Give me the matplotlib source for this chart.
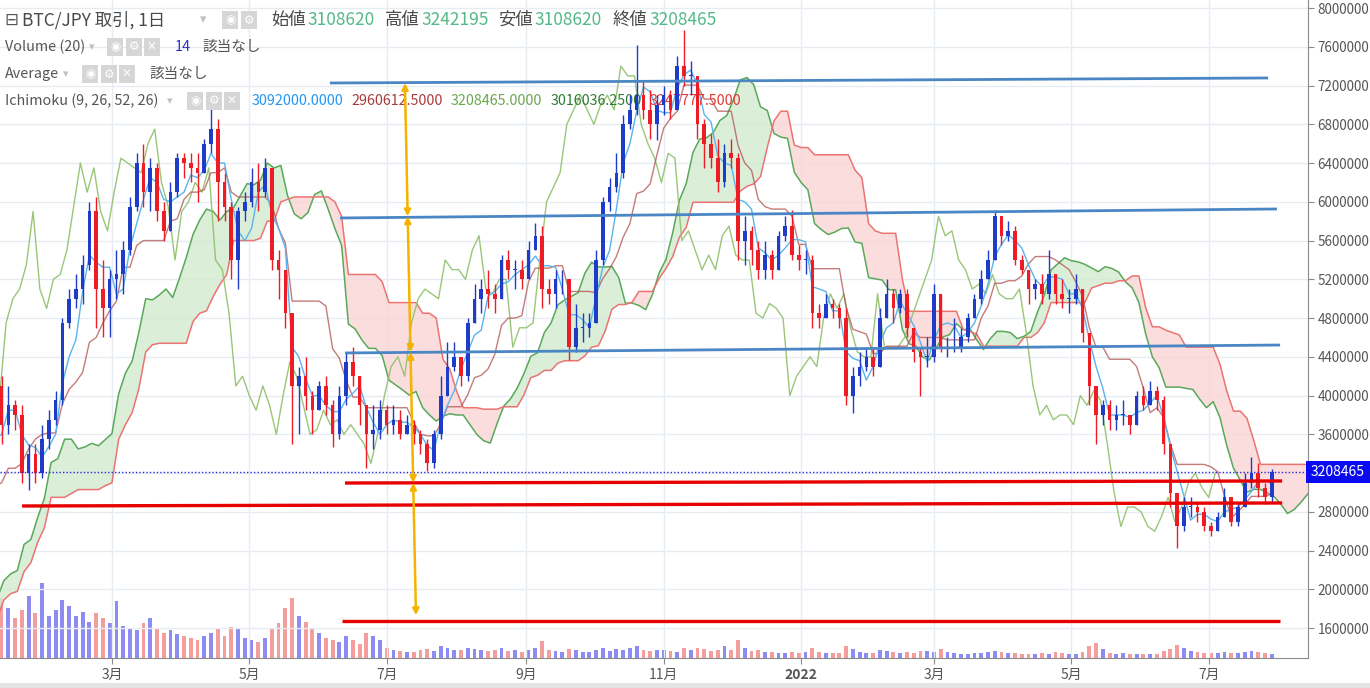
import numpy as np
import pandas as pd
import matplotlib
matplotlib.use('Agg')
import matplotlib.pyplot as plt
from matplotlib.patches import Rectangle
import matplotlib.transforms as mtransforms

plt.rcParams['font.family'] = ['Noto Sans CJK JP', 'DejaVu Sans']

# ---------------- data (prices in units of 10,000 JPY, 3-day candles) ----------------
# history before the visible window (Oct 2020 - Jan 2021), used only for the Ichimoku lines
pre_close = [121, 121, 124, 137, 137, 138, 142, 146, 160, 160, 170, 167, 185, 194, 198,
             178, 200, 200, 200, 191, 194, 200, 235, 240, 240, 275, 290, 330, 350, 410]
pre_high = [123, 123, 125, 139, 140, 144, 145, 148, 165, 163, 172, 172, 188, 196, 200,
            202, 202, 205, 203, 200, 196, 202, 240, 250, 250, 285, 295, 335, 360, 420]
pre_low = [119, 119, 120, 124, 134, 135, 138, 141, 146, 152, 160, 162, 167, 182, 188,
           170, 178, 190, 192, 186, 186, 194, 200, 230, 230, 240, 270, 290, 300, 350]

# visible candles: 2021-01-10 .. 2022-07-28
close = [370, 390, 380, 320, 340, 320, 355, 375, 395, 475,
         500, 510, 535, 590, 510, 490, 520, 525, 550, 595,
         640, 610, 635, 590, 570, 610, 645, 640, 635, 630,
         660, 675, 620, 595, 540, 590, 600, 620, 610, 635,
         540, 530, 485, 410, 420, 400, 385, 410, 390, 360,
         400, 435, 420, 390, 360, 365, 385, 370, 375, 360,
         370, 360, 350, 330, 360, 400, 430, 440, 420, 475,
         500, 510, 505, 500, 540, 530, 530, 520, 550, 565,
         510, 505, 520, 520, 450, 470, 470, 475, 540, 600,
         615, 630, 680, 695, 710, 695, 680, 700, 710, 695,
         740, 730, 730, 680, 660, 645, 620, 650, 645, 560,
         570, 550, 530, 545, 530, 565, 575, 545, 540, 540,
         485, 480, 495, 490, 480, 400, 420, 430, 440, 430,
         480, 505, 490, 505, 470, 445, 440, 440, 505, 450,
         450, 450, 460, 480, 500, 520, 540, 585, 565, 570,
         540, 530, 510, 515, 505, 525, 505, 500, 500, 510,
         465, 410, 380, 390, 375, 380, 380, 370, 400, 390,
         405, 395, 350, 300, 265, 285, 285, 280, 265, 260,
         275, 295, 270, 285, 310, 320, 305, 295, 320.8465]
high = [420, 410, 395, 390, 350, 350, 370, 385, 405, 480,
        510, 525, 545, 600, 605, 540, 530, 550, 560, 605,
        650, 660, 645, 640, 600, 620, 650, 650, 650, 650,
        665, 700, 685, 630, 600, 595, 610, 635, 640, 645,
        635, 550, 520, 470, 430, 440, 405, 415, 420, 395,
        410, 445, 450, 415, 385, 390, 395, 390, 390, 385,
        380, 375, 365, 355, 365, 420, 455, 455, 440, 480,
        515, 520, 530, 515, 545, 550, 540, 540, 560, 578,
        575, 520, 530, 530, 520, 495, 485, 485, 550, 605,
        625, 650, 690, 710, 762, 725, 715, 710, 720, 715,
        750, 777, 745, 730, 685, 670, 665, 660, 665, 650,
        585, 575, 560, 560, 550, 570, 585, 592, 555, 550,
        545, 495, 505, 500, 495, 490, 430, 445, 450, 450,
        490, 520, 510, 510, 510, 465, 450, 460, 515, 500,
        460, 480, 470, 485, 505, 530, 550, 592, 585, 580,
        575, 545, 530, 520, 525, 550, 520, 520, 510, 525,
        510, 460, 410, 395, 395, 390, 395, 380, 405, 410,
        415, 410, 400, 350, 300, 295, 295, 290, 285, 270,
        280, 305, 295, 290, 320, 337, 330, 310, 324.2195]
low = [350, 360, 365, 310, 303, 310, 315, 345, 370, 390,
       470, 490, 495, 530, 470, 460, 460, 500, 505, 545,
       590, 595, 590, 580, 560, 570, 605, 625, 620, 600,
       630, 650, 580, 580, 520, 510, 580, 595, 590, 605,
       530, 500, 470, 350, 360, 385, 360, 385, 380, 347,
       355, 390, 410, 370, 325, 345, 355, 360, 360, 355,
       360, 350, 340, 322, 325, 355, 400, 425, 410, 415,
       475, 485, 490, 485, 500, 520, 510, 510, 520, 550,
       490, 495, 490, 505, 437, 445, 455, 460, 475, 535,
       590, 610, 625, 675, 690, 685, 665, 664, 690, 685,
       695, 720, 710, 665, 635, 635, 610, 615, 635, 540,
       535, 535, 520, 520, 520, 530, 560, 540, 530, 525,
       470, 470, 480, 480, 470, 390, 382, 410, 425, 420,
       430, 485, 475, 485, 460, 435, 400, 430, 435, 445,
       440, 445, 445, 455, 480, 495, 520, 545, 555, 560,
       535, 525, 495, 500, 495, 500, 495, 490, 485, 495,
       455, 390, 350, 370, 365, 365, 370, 360, 370, 385,
       390, 385, 340, 285, 243, 260, 275, 270, 260, 255,
       260, 275, 265, 265, 285, 305, 295, 288, 290]
volume = [60, 50, 40, 48, 62, 45, 75, 42, 48, 58,
          52, 42, 46, 36, 45, 40, 35, 57, 32, 30,
          28, 35, 40, 30, 25, 28, 24, 22, 20, 18,
          22, 25, 30, 22, 31, 30, 20, 18, 16, 20,
          30, 35, 50, 60, 42, 36, 30, 25, 20, 18,
          16, 22, 18, 14, 25, 22, 18, 10, 8, 7,
          6, 6, 8, 9, 7, 12, 10, 8, 8, 10,
          9, 8, 7, 8, 10, 7, 8, 6, 8, 10,
          17, 8, 7, 6, 9, 8, 6, 6, 8, 10,
          7, 9, 8, 10, 12, 8, 7, 8, 8, 7,
          6, 10, 8, 10, 9, 7, 8, 12, 8, 18,
          10, 7, 8, 6, 6, 5, 5, 6, 5, 6,
          10, 6, 5, 5, 5, 12, 9, 6, 5, 5,
          8, 7, 6, 5, 6, 5, 7, 7, 6, 9,
          6, 5, 4, 4, 5, 5, 6, 7, 6, 5,
          5, 4, 4, 4, 5, 4, 6, 5, 4, 4,
          6, 12, 15, 9, 5, 4, 5, 4, 4, 4,
          4, 4, 7, 9, 13, 10, 7, 6, 5, 5,
          5, 6, 5, 5, 6, 7, 6, 5, 4]

last_price = 3208465
ohlc_legend = [('始値', '3108620'), ('高値', '3242195'), ('安値', '3108620'), ('終値', '3208465')]
ichimoku_values = ['3092000.0000', '2960612.5000', '3208465.0000', '3016036.2500', '3247777.5000']

month_days = [59, 120, 181, 243, 304, 365, 424, 485, 546]   # days since 2021-01-01
month_labels = ['3月', '5月', '7月', '9月', '11月', '2022', '3月', '5月', '7月']
price_ticks = list(range(1600000, 8000001, 400000))

# drawn trend lines: (day0, price0, day1, price1)
blue_lines = [(155.8, 7226000, 572.4, 7278000),
              (160.3, 5833000, 576.3, 5926000),
              (162.5, 4440000, 577.7, 4522000)]
red_lines = [(162.5, 3098000, 578.6, 3119000),
             (19.1, 2861000, 578.6, 2892000),
             (161.2, 1674000, 577.7, 1674000)]
yellow_levels = [7226000, 5850000, 4450000, 3100000, 1734000]
yellow_days = (189.1, 194.0)

# ---------------- derived arrays ----------------
n_pre = len(pre_close)
C = np.array(pre_close + close, float) * 1e4
Hh = np.array(pre_high + high, float) * 1e4
Ll = np.array(pre_low + low, float) * 1e4
O = np.r_[C[0], C[:-1]]
Hh = np.maximum(Hh, np.maximum(O, C))
Ll = np.minimum(Ll, np.minimum(O, C))
idx = np.arange(-n_pre, len(close))
day = 10 + 3 * idx

hs, ls = pd.Series(Hh), pd.Series(Ll)
def mid(n):
    return ((hs.rolling(n, min_periods=1).max() + ls.rolling(n, min_periods=1).min()) / 2).values
tenkan = mid(3)
kijun = mid(9)
spanA = (tenkan + kijun) / 2
spanB = mid(17)

# ---------------- figure ----------------
W, Hpx = 1370, 688
fig = plt.figure(figsize=(W / 100, Hpx / 100), dpi=100, facecolor='white')
rect = [0, 30 / Hpx, 1308 / W, 658 / Hpx]
ax = fig.add_axes(rect)
axv = ax.twinx()
axv.set_zorder(0)
ax.set_zorder(1)
ax.patch.set_visible(False)

XL = (9.3, 590.1)
YL = (1292100, 8082600)
ax.set_xlim(*XL)
ax.set_ylim(*YL)

# grid
for p in price_ticks:
    ax.axhline(p, color='#e6ecf2', lw=1, zorder=0)
for d in month_days:
    ax.axvline(d, color='#e6ecf2', lw=1, zorder=0)

# volume
vis = slice(n_pre, None)
vup = C[vis] >= O[vis]
axv.bar(day[vis], volume, width=1.7, color=np.where(vup, '#7878f0', '#f38c8c'), linewidth=0, alpha=0.85)
axv.set_ylim(0, 658)
axv.set_yticks([])
for s in axv.spines.values():
    s.set_visible(False)

# ichimoku cloud
lx = day + 25
ax.fill_between(lx, spanA, spanB, where=spanA >= spanB, interpolate=True,
                color='#d3eacf', alpha=0.8, lw=0, zorder=1)
ax.fill_between(lx, spanA, spanB, where=spanA < spanB, interpolate=True,
                color='#fbd5d5', alpha=0.8, lw=0, zorder=1)
ax.plot(lx, spanA, color='#5aa85a', lw=1.1, zorder=2)
ax.plot(lx, spanB, color='#ea7472', lw=1.1, zorder=2)
ax.plot(day - 25, C, color='#8fc06a', lw=1.0, alpha=0.9, zorder=2)
ax.plot(day, kijun, color='#b0504e', lw=1.0, alpha=0.75, zorder=2)
ax.plot(day, tenkan, color='#5ab4ee', lw=1.0, zorder=2)

# candles
up = C >= O
col = np.where(up, '#1e3cc8', '#ee1c25')
ax.vlines(day, Ll, Hh, colors=col, lw=1.0, zorder=4)
ax.bar(day, np.maximum(np.abs(C - O), 6000), bottom=np.minimum(C, O), width=1.6,
       color=col, linewidth=0, zorder=5)

# current price dotted line
ax.axhline(last_price, color='#2a2ad8', lw=1.0, ls=(0, (1, 1.5)), zorder=6)

# drawn lines
for d0, p0, d1, p1 in blue_lines:
    ax.plot([d0, d1], [p0, p1], color='#4a86c4', lw=2.0, solid_capstyle='butt', zorder=7)
for d0, p0, d1, p1 in red_lines:
    ax.plot([d0, d1], [p0, p1], color='#e60000', lw=2.4, solid_capstyle='butt', zorder=7)
ytop, ybot = yellow_levels[0], yellow_levels[-1]
for pa, pb in zip(yellow_levels[:-1], yellow_levels[1:]):
    da = yellow_days[0] + (ytop - pa) / (ytop - ybot) * (yellow_days[1] - yellow_days[0])
    db = yellow_days[0] + (ytop - pb) / (ytop - ybot) * (yellow_days[1] - yellow_days[0])
    ax.annotate('', xy=(db, pb), xytext=(da, pa),
                arrowprops=dict(arrowstyle='<|-|>', color='#f5b300', lw=1.8,
                                mutation_scale=9, shrinkA=0, shrinkB=0), zorder=8)

# axes styling
for k in ['top', 'left']:
    ax.spines[k].set_visible(False)
ax.spines['right'].set_color('#8a8a8a')
ax.spines['bottom'].set_color('#8a8a8a')
ax.yaxis.tick_right()
ax.set_yticks(price_ticks)
ax.set_yticklabels(['' if p == 3200000 else str(p) for p in price_ticks])
ax.tick_params(axis='y', colors='#8a8a8a', labelcolor='#555555', labelsize=9.7, length=4, pad=3)
ax.set_xticks(month_days)
ax.set_xticklabels(month_labels)
ax.tick_params(axis='x', colors='#8a8a8a', labelcolor='#555555', labelsize=10, length=4, pad=3)
for t, lab in zip(ax.get_xticklabels(), month_labels):
    if lab == '2022':
        t.set_fontweight('bold')

# price tag
bt = mtransforms.blended_transform_factory(fig.transFigure, ax.transData)
tag_h = 22 / 96.9 * 1e6
ax.add_patch(Rectangle((1306 / W, last_price - tag_h / 2), 64 / W, tag_h, transform=bt,
                       facecolor='#0a0af0', edgecolor='none', clip_on=False, zorder=20))
ax.text(1338 / W, last_price, str(last_price), transform=bt, ha='center', va='center',
        color='white', fontsize=10, zorder=21, clip_on=False)

# bottom band
fig.patches.append(Rectangle((0, 0), 1, 5 / Hpx, transform=fig.transFigure,
                             facecolor='#e4e4e4', edgecolor='none'))

# ---------------- legend text ----------------
def ft(x, y, s, size=11, color='#555555', z=3, **kw):
    ax.text(x / W, 1 - y / Hpx, s, transform=fig.transFigure, fontsize=size, color=color,
            ha='left', va='center', zorder=z, **kw)

def icons(x, y, syms):
    for k, s in enumerate(syms):
        ft(x + 18.5 * k, y, s, size=8.5, color='white', z=9, family=['DejaVu Sans'],
           bbox=dict(boxstyle='square,pad=0.25', facecolor='#d6d6d6', edgecolor='none'))

ft(4, 20, '⊟', size=12, family=['DejaVu Sans'])
ft(22, 20, 'BTC/JPY 取引, 1日', size=12.5, color='#4a4a4a')
ft(200, 20, '▾', size=9, color='#c0c0c0', family=['DejaVu Sans'])
icons(225, 20, ['◉', '⚙'])
xs = [271, 385, 498, 613]
for (lab, val), x0 in zip(ohlc_legend, xs):
    ft(x0, 20, lab, size=12.5, color='#4a4a4a')
    ft(x0 + 36, 20, val, size=12.5, color='#53b987')

ft(5, 47, 'Volume (20)', size=10.3)
ft(89, 47, '▾', size=8, color='#c0c0c0', family=['DejaVu Sans'])
icons(110, 47, ['◉', '⚙', '✕'])
ft(175, 47, '14', size=10.5, color='#3333cc')
ft(202, 47, '該当なし', size=10.5)

ft(5, 74, 'Average', size=10.3)
ft(63, 74, '▾', size=8, color='#c0c0c0', family=['DejaVu Sans'])
icons(85, 74, ['◉', '⚙', '✕'])
ft(149, 74, '該当なし', size=10.5)

ft(5, 101, 'Ichimoku (9, 26, 52, 26)', size=10.3)
ft(167, 101, '▾', size=8, color='#c0c0c0', family=['DejaVu Sans'])
icons(190, 101, ['◉', '⚙', '✕'])
ich_cols = ['#2196f3', '#a83c3c', '#6aa84f', '#2e7d32', '#e53935']
for k, (v, c) in enumerate(zip(ichimoku_values, ich_cols)):
    ft(252 + 99.5 * k, 101, v, size=10.3, color=c)

fig.savefig('out.png', dpi=100, facecolor='white')
